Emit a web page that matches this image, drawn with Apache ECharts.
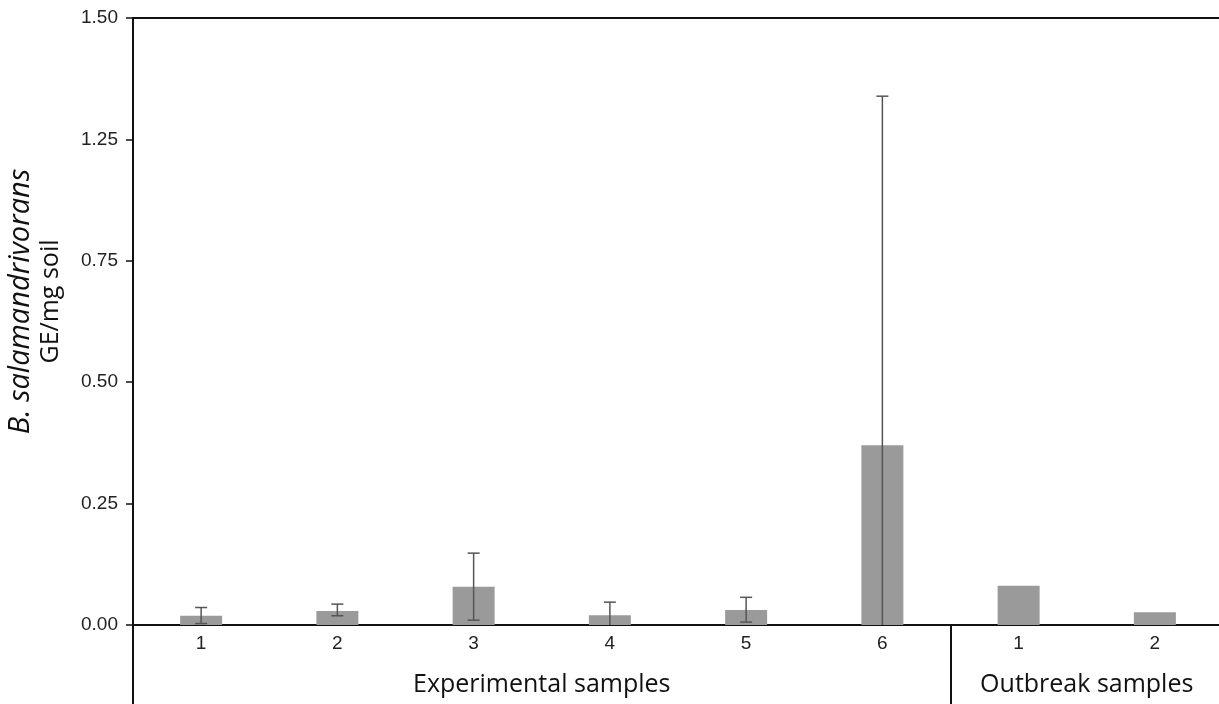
<!DOCTYPE html>
<html>
<head>
<meta charset="utf-8">
<script src="https://cdn.jsdelivr.net/npm/echarts@6/dist/echarts.min.js"></script>
<style>
html,body{margin:0;padding:0;background:#fff;}
#chart{width:1219px;height:704px;}
</style>
</head>
<body>
<div id="chart"></div>
<script>
// ---- data ----
const categories = ['1', '2', '3', '4', '5', '6', '1', '2'];
const means      = [0.019, 0.029, 0.079, 0.020, 0.031, 0.370, 0.081, 0.026];
const errLow     = [0.003, 0.019, 0.010, 0.000, 0.006, 0.000, null, null];
const errHigh    = [0.036, 0.043, 0.148, 0.047, 0.057, 1.339, null, null];
const yTickLabels = ['0.00', '0.25', '0.50', '0.75', '1.25', '1.50'];
const groupLabels = ['Experimental samples', 'Outbreak samples'];
const groupCenters = [3, 7];   // in category units (0..8)
const separatorIndex = 6;

// The reference axis is broken: 0.75 -> 1.25 is shown in one tick step.
function toAxis(v) {
  if (v <= 0.75) return v;
  if (v <= 1.25) return 0.75 + (v - 0.75) / 2;
  return v - 0.25;
}

const errData = [];
for (let i = 0; i < categories.length; i++) {
  if (errHigh[i] != null) errData.push([i, toAxis(errLow[i]), toAxis(errHigh[i])]);
}

const chart = echarts.init(document.getElementById('chart'), null, {renderer: 'canvas'});
const black = '#111';
chart.setOption({
  backgroundColor: '#fff',
  animation: false,
  grid: {left: 133, top: 18, width: 1090, height: 607, containLabel: false, outerBoundsMode: 'none'},
  xAxis: [
    {
      type: 'category', data: categories, position: 'bottom',
      axisLine: {show: true, onZero: false, lineStyle: {color: black, width: 2}},
      axisTick: {show: true, length: 79, interval: (i) => i === 0 || i === separatorIndex,
                 lineStyle: {color: black, width: 2}},
      axisLabel: {interval: 0, fontSize: 19, color: '#222', margin: 9, fontFamily: 'Liberation Sans'},
      splitLine: {show: false}
    },
    {
      type: 'value', min: 0, max: 8, interval: 1, position: 'bottom',
      axisLine: {show: false}, axisTick: {show: false}, splitLine: {show: false},
      axisLabel: {
        margin: 47, fontSize: 25, color: '#111', fontFamily: 'Open Sans',
        showMinLabel: false, showMaxLabel: false,
        formatter: (v) => {
          const k = groupCenters.indexOf(Math.round(v));
          return k >= 0 ? groupLabels[k] : '';
        }
      }
    },
    {
      type: 'category', data: categories, position: 'top',
      axisLine: {show: true, lineStyle: {color: black, width: 2}},
      axisTick: {show: false}, axisLabel: {show: false}, splitLine: {show: false}
    }
  ],
  yAxis: {
    type: 'value', min: 0, max: 1.25, interval: 0.25,
    axisLine: {show: true, lineStyle: {color: black, width: 2}},
    axisTick: {show: true, length: 7, lineStyle: {color: black, width: 1.5}},
    splitLine: {show: false},
    axisLabel: {
      fontSize: 19, color: '#222', margin: 15, fontFamily: 'Liberation Sans',
      formatter: (v) => yTickLabels[Math.round(v / 0.25)]
    },
    name: '{i|B. salamandrivorans}\n{n|GE/mg soil}',
    nameLocation: 'middle',
    nameGap: 68,
    nameTextStyle: {
      padding: [0, 0, 0, 40],
      align: 'center',
      rich: {
        i: {fontStyle: 'italic', fontSize: 29, fontFamily: 'Open Sans', color: '#111', lineHeight: 32, align: 'center'},
        n: {fontSize: 25, fontFamily: 'Open Sans', color: '#111', lineHeight: 28, align: 'center'}
      }
    }
  },
  series: [
    {
      type: 'bar', data: means, barWidth: 42, xAxisIndex: 0,
      itemStyle: {color: '#9a9a9a'}, z: 2
    },
    {
      type: 'custom', xAxisIndex: 0, z: 3,
      encode: {x: 0, y: [1, 2]},
      data: errData,
      renderItem: function (params, api) {
        const i = api.value(0);
        const pLo = api.coord([i, api.value(1)]);
        const pHi = api.coord([i, api.value(2)]);
        const hw = 6;
        const st = {stroke: '#555', lineWidth: 1.5};
        const children = [
          {type: 'line', shape: {x1: pHi[0], y1: pHi[1], x2: pLo[0], y2: pLo[1]}, style: st},
          {type: 'line', shape: {x1: pHi[0] - hw, y1: pHi[1], x2: pHi[0] + hw, y2: pHi[1]}, style: st}
        ];
        if (api.value(1) > 0) {
          children.push({type: 'line', shape: {x1: pLo[0] - hw, y1: pLo[1], x2: pLo[0] + hw, y2: pLo[1]}, style: st});
        }
        return {type: 'group', children: children};
      }
    }
  ]
});
</script>
</body>
</html>
